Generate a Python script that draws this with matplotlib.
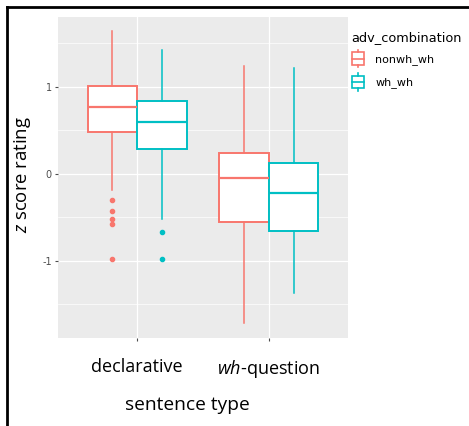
import matplotlib.pyplot as plt
from matplotlib.legend_handler import HandlerBase
from matplotlib.patches import Rectangle
from matplotlib.lines import Line2D

plt.rcParams['mathtext.fontset'] = 'custom'
plt.rcParams['mathtext.it'] = 'Open Sans:italic'
plt.rcParams['mathtext.rm'] = 'Open Sans'

# data
sentence_types = ['declarative', '$\\it{wh}$-question']
groups = ['nonwh_wh', 'wh_wh']
colors = ['#F8766D', '#00BFC4']

# per group, per sentence type: (whislo, q1, med, q3, whishi)
box_stats = {
    'nonwh_wh': [(-0.19, 0.475, 0.766, 1.004, 1.636),
                 (-1.716, -0.548, -0.05, 0.238, 1.234)],
    'wh_wh': [(-0.517, 0.279, 0.598, 0.839, 1.417),
              (-1.364, -0.655, -0.222, 0.123, 1.215)],
}
outliers = {
    'nonwh_wh': [[-0.30, -0.43, -0.52, -0.58, -0.98], []],
    'wh_wh': [[-0.663, -0.98], []],
}


class BoxKeyHandler(HandlerBase):
    def __init__(self, color):
        super().__init__()
        self.color = color

    def create_artists(self, legend, orig_handle, xdescent, ydescent,
                       width, height, fontsize, trans):
        w = width * 0.8
        x0 = (width - w) / 2 - xdescent
        y0 = -ydescent + height * 0.15
        h = height * 0.7
        box = Rectangle((x0, y0), w, h, facecolor='white',
                        edgecolor=self.color, lw=1.2, transform=trans)
        mid = Line2D([x0, x0 + w], [y0 + h / 2] * 2, color=self.color,
                     lw=1.2, transform=trans)
        cx = x0 + w / 2
        top = Line2D([cx, cx], [y0 + h, y0 + h + height * 0.15],
                     color=self.color, lw=1.2, transform=trans)
        bot = Line2D([cx, cx], [y0 - height * 0.15, y0],
                     color=self.color, lw=1.2, transform=trans)
        return [box, mid, top, bot]


fig = plt.figure(figsize=(4.69, 4.26), dpi=100)
ax = fig.add_axes([58 / 469, 1 - 338 / 426, 290 / 469, 321 / 426])
ax.set_facecolor('#EBEBEB')

width = 0.375
for gi, g in enumerate(groups):
    stats = []
    positions = []
    for si in range(len(sentence_types)):
        lo, q1, med, q3, hi = box_stats[g][si]
        stats.append(dict(whislo=lo, q1=q1, med=med, q3=q3, whishi=hi,
                          fliers=outliers[g][si]))
        positions.append(si + 1 + (gi - 0.5) * width)
    c = colors[gi]
    ax.bxp(stats, positions=positions, widths=width, patch_artist=True,
           showcaps=False,
           boxprops=dict(facecolor='white', edgecolor=c, lw=1.4),
           medianprops=dict(color=c, lw=1.6),
           whiskerprops=dict(color=c, lw=1.1),
           flierprops=dict(marker='o', markerfacecolor=c, markeredgecolor=c,
                           markersize=3),
           zorder=3)

ax.set_xlim(0.4, 2.6)
ax.set_ylim(-1.885, 1.80)
ax.set_yticks([-1, 0, 1])
ax.set_yticklabels(['-1', '0', '1'])
ax.set_yticks([-1.5, -0.5, 0.5, 1.5], minor=True)
ax.set_xticks([1, 2])
ax.set_xticklabels(sentence_types, fontsize=13, family='Open Sans')
ax.grid(True, which='major', color='white', lw=0.9, zorder=0)
ax.grid(True, which='minor', axis='y', color='white', lw=0.5, zorder=0)
ax.set_axisbelow(True)
for s in ax.spines.values():
    s.set_visible(False)
ax.tick_params(axis='y', which='major', labelsize=7, colors='#4D4D4D',
               length=2.5, pad=2)
ax.tick_params(axis='y', which='minor', length=0)
ax.tick_params(axis='x', length=2.5, color='#4D4D4D', pad=12)
ax.set_xlabel('sentence type', fontsize=13.8, family='Open Sans')
ax.xaxis.set_label_coords((187 - 58) / 290, -(396 - 338) / 321)
ax.set_ylabel('$\\it{z}$ score rating', fontsize=13.3, family='Open Sans')
ax.yaxis.set_label_coords(-(58 - 33) / 290, (338 - 175) / 321)

handles = [Rectangle((0, 0), 1, 1) for _ in groups]
hmap = {h: BoxKeyHandler(c) for h, c in zip(handles, colors)}
leg = fig.legend(handles, groups, handler_map=hmap, title='adv_combination',
                 loc='upper left', bbox_to_anchor=(351 / 469, 1 - 31 / 426),
                 frameon=False, fontsize=8, title_fontsize=9.3,
                 handlelength=1.3, handleheight=2.1, labelspacing=0.5,
                 handletextpad=0.9, borderaxespad=0, borderpad=0)
leg._legend_box.align = 'left'

# black frame around the figure (open at right/bottom)
fig.add_artist(Line2D([7 / 469, 7 / 469], [1 - 7 / 426, 0], color='black',
                      lw=2, transform=fig.transFigure))
fig.add_artist(Line2D([7 / 469, 1], [1 - 7 / 426, 1 - 7 / 426], color='black',
                      lw=2, transform=fig.transFigure))

fig.savefig('out.png', dpi=100)
